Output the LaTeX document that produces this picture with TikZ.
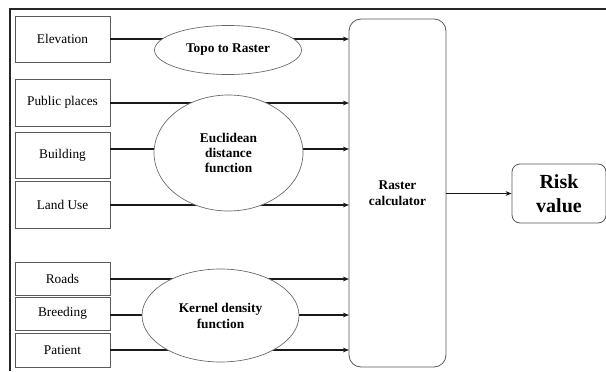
\documentclass[tikz,border=0pt]{standalone}
\usepackage{fontspec}
\setmainfont{Liberation Serif}
\usetikzlibrary{shapes.geometric,arrows.meta}
\begin{document}
\begin{tikzpicture}[x=0.75pt,y=-0.75pt,
  inbox/.style={draw=black!65,line width=0.6pt,minimum width=95*0.75pt,inner sep=0pt,font=\fontsize{10}{12}\selectfont},
  proc/.style={ellipse,draw=black!60,line width=0.5pt,fill=white,inner sep=0pt,align=center,font=\bfseries\fontsize{10}{12}\selectfont},
  conn/.style={line width=1.1pt,draw=black!90},
  arr/.style={conn,-{Stealth[length=4.5pt,width=3.5pt]}}]
\useasboundingbox (0,0) rectangle (606,371);
\fill[white] (0,0) rectangle (606,371);
% frame
\draw[line width=0.9pt,black!85] (10,371) -- (10,9) -- (606,9);
% input boxes
\node[inbox,minimum height=46*0.75pt] (elev) at (62.5,39) {Elevation};
\node[inbox,minimum height=47*0.75pt] (pub) at (62.5,102.5) {Public places};
\node[inbox,minimum height=46*0.75pt] (bld) at (62.5,155) {Building};
\node[inbox,minimum height=47*0.75pt] (land) at (62.5,204.5) {Land Use};
\node[inbox,minimum height=33*0.75pt] (road) at (62.5,278.5) {Roads};
\node[inbox,minimum height=33*0.75pt] (breed) at (62.5,313.5) {Breeding};
\node[inbox,minimum height=34*0.75pt] (pat) at (62.5,350) {Patient};
% raster calculator and result
\node[draw=black!65,line width=0.6pt,rounded corners=9pt,minimum width=97*0.75pt,minimum height=348*0.75pt,align=center,font=\bfseries\fontsize{10}{12}\selectfont] (calc) at (397.5,193) {Raster\\calculator};
\node[draw=black!65,line width=0.6pt,rounded corners=6pt,minimum width=94*0.75pt,minimum height=59*0.75pt,align=center,font=\bfseries\fontsize{15}{18}\selectfont,inner sep=0pt] (risk) at (559,193.5) {Risk\\value};
% coordinates on the calculator's left side
\coordinate (c1) at (349,39);
\coordinate (c2) at (349,103);
\coordinate (c3) at (349,149);
\coordinate (c4) at (349,205);
\coordinate (c5) at (349,279);
\coordinate (c6) at (349,315);
\coordinate (c7) at (349,350);
% connectors (drawn under the ellipses)
\draw[arr] (elev.east |- c1) -- (c1);
\draw[arr] (pub.east |- c2) -- (c2);
\draw[arr] (bld.east |- c3) -- (c3);
\draw[arr] (land.east |- c4) -- (c4);
\draw[arr] (road.east |- c5) -- (c5);
\draw[arr] (breed.east |- c6) -- (c6);
\draw[arr] (pat.east |- c7) -- (c7);
\draw[arr] (calc.east |- risk.west) -- (risk.west);
% processing ellipses
\node[proc,minimum width=147*0.75pt,minimum height=49*0.75pt] (topo) at (228,50) {Topo to Raster};
\node[proc,minimum width=149*0.75pt,minimum height=116*0.75pt] (eucl) at (228.5,153) {Euclidean\\[-1pt]distance\\[-1pt]function};
\node[proc,minimum width=157*0.75pt,minimum height=93*0.75pt] (kern) at (220.5,315.5) {Kernel density\\function};
\end{tikzpicture}
\end{document}
